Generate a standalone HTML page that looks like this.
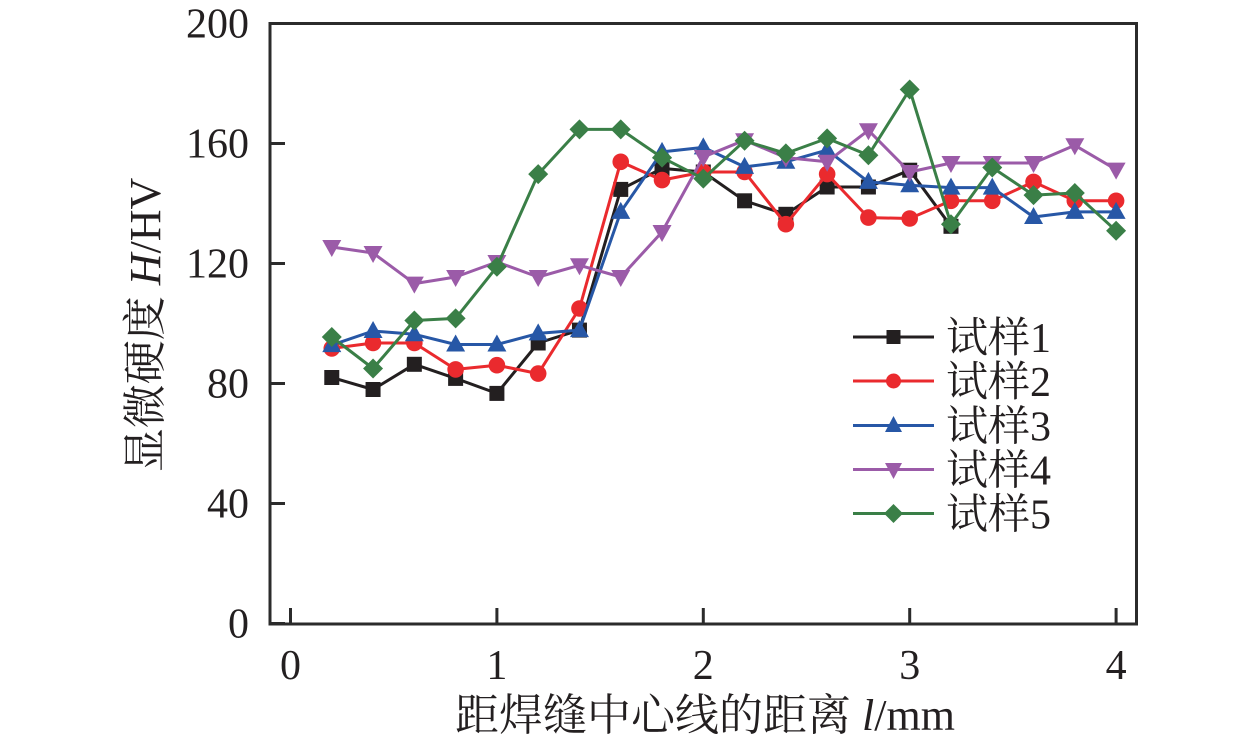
<!DOCTYPE html>
<html><head><meta charset="utf-8"><style>
html,body{margin:0;padding:0;background:#fff;}
svg{display:block;}
text{fill:#231f20;}
</style></head><body>
<svg width="1260" height="746" viewBox="0 0 1260 746" xmlns="http://www.w3.org/2000/svg">
<defs>
<marker id="m1" markerUnits="userSpaceOnUse" markerWidth="20" markerHeight="20" refX="10" refY="10" viewBox="0 0 20 20" overflow="visible"><rect x="2.5" y="2.5" width="15" height="15" fill="#231f20"/></marker>
<marker id="m2" markerUnits="userSpaceOnUse" markerWidth="20" markerHeight="20" refX="10" refY="10" viewBox="0 0 20 20" overflow="visible"><circle cx="10" cy="10" r="8.3" fill="#ea2a2e"/></marker>
<marker id="m3" markerUnits="userSpaceOnUse" markerWidth="20" markerHeight="20" refX="10" refY="10" viewBox="0 0 20 20" overflow="visible"><polygon points="10,0 19.5,17 0.5,17" fill="#2757a6"/></marker>
<marker id="m4" markerUnits="userSpaceOnUse" markerWidth="20" markerHeight="20" refX="10" refY="10" viewBox="0 0 20 20" overflow="visible"><polygon points="10,20 19.5,3 0.5,3" fill="#9b5ba8"/></marker>
<marker id="m5" markerUnits="userSpaceOnUse" markerWidth="20" markerHeight="20" refX="10" refY="10" viewBox="0 0 20 20" overflow="visible"><polygon points="10,0 20,10 10,20 0,10" fill="#3a7f47"/></marker>
</defs>

<!-- frame -->
<rect x="270" y="23.5" width="866.5" height="600.5" fill="none" stroke="#2b2b2b" stroke-width="3"/>
<!-- y ticks -->
<g stroke="#2b2b2b" stroke-width="3">
<line x1="270" y1="623.5" x2="285" y2="623.5"/>
<line x1="270" y1="503.5" x2="285" y2="503.5"/>
<line x1="270" y1="383.5" x2="285" y2="383.5"/>
<line x1="270" y1="263.5" x2="285" y2="263.5"/>
<line x1="270" y1="143.5" x2="285" y2="143.5"/>
<line x1="270" y1="23.5" x2="285" y2="23.5"/>
<!-- x ticks -->
<line x1="290.5" y1="624" x2="290.5" y2="608"/>
<line x1="496.9" y1="624" x2="496.9" y2="608"/>
<line x1="703.3" y1="624" x2="703.3" y2="608"/>
<line x1="909.7" y1="624" x2="909.7" y2="608"/>
<line x1="1116.1" y1="624" x2="1116.1" y2="608"/>
</g>

<!-- y tick labels -->
<g font-family="'Liberation Serif', serif" font-size="42" text-anchor="end">
<text x="249" y="637.5">0</text>
<text x="249" y="517.5">40</text>
<text x="249" y="397.5">80</text>
<text x="249" y="277.5">120</text>
<text x="249" y="157.5">160</text>
<text x="249" y="37.5">200</text>
</g>
<!-- x tick labels -->
<g font-family="'Liberation Serif', serif" font-size="42" text-anchor="middle">
<text x="290.5" y="679">0</text>
<text x="496.9" y="679">1</text>
<text x="703.3" y="679">2</text>
<text x="909.7" y="679">3</text>
<text x="1116.1" y="679">4</text>
</g>

<!-- axis titles -->
<text x="705" y="730" font-family="'Liberation Serif','Noto Serif CJK SC',serif" font-size="44" text-anchor="middle">距焊缝中心线的距离 <tspan font-style="italic">l</tspan>/mm</text>
<text transform="translate(160,325) rotate(-90)" x="0" y="0" font-family="'Liberation Serif','Noto Serif CJK SC',serif" font-size="44" text-anchor="middle">显微硬度 <tspan font-style="italic">H</tspan>/HV</text>

<!-- series -->
<g fill="none" stroke-width="3" stroke-linejoin="round">
<polyline stroke="#231f20" marker-start="url(#m1)" marker-mid="url(#m1)" marker-end="url(#m1)" points="331.78,377.5 373.06,389.5 414.34,364.3 455.62,378.4 496.9,393.4 538.18,343 579.46,330.1 620.74,189.4 662.02,168.4 703.3,172 744.58,200.8 785.86,214.3 827.14,187 868.42,187 909.7,170.2 950.98,226.3"/>
<polyline stroke="#ea2a2e" marker-start="url(#m2)" marker-mid="url(#m2)" marker-end="url(#m2)" points="331.78,348.4 373.06,343 414.34,343 455.62,369.4 496.9,365.2 538.18,373.6 579.46,308.5 620.74,161.8 662.02,180.1 703.3,172 744.58,172 785.86,224.2 827.14,174.1 868.42,217.6 909.7,218.5 950.98,200.8 992.26,200.8 1033.54,181.9 1074.82,200.8 1116.1,200.8"/>
<polyline stroke="#2757a6" marker-start="url(#m3)" marker-mid="url(#m3)" marker-end="url(#m3)" points="331.78,345.1 373.06,331 414.34,334.3 455.62,344.5 496.9,344.5 538.18,333.4 579.46,330.1 620.74,211.9 662.02,151.9 703.3,147.4 744.58,166.9 785.86,161.8 827.14,150.1 868.42,181.9 909.7,185.2 950.98,187.6 992.26,187.6 1033.54,217 1074.82,211.9 1116.1,211.9"/>
<polyline stroke="#9b5ba8" marker-start="url(#m4)" marker-mid="url(#m4)" marker-end="url(#m4)" points="331.78,247 373.06,253 414.34,283.6 455.62,277 496.9,262 538.18,277 579.46,265.3 620.74,277 662.02,232 703.3,157 744.58,140.2 785.86,157.6 827.14,161.8 868.42,130.3 909.7,172 950.98,163 992.26,163 1033.54,163 1074.82,145.3 1116.1,169.6"/>
<polyline stroke="#3a7f47" marker-start="url(#m5)" marker-mid="url(#m5)" marker-end="url(#m5)" points="331.78,337 373.06,368.5 414.34,320.5 455.62,318.4 496.9,266.8 538.18,174.1 579.46,129.4 620.74,129.4 662.02,157.6 703.3,178.6 744.58,140.8 785.86,153.4 827.14,138.4 868.42,155.2 909.7,89.5 950.98,224.2 992.26,167.5 1033.54,195.1 1074.82,193 1116.1,230.8"/>
</g>

<!-- legend -->
<g stroke-width="3">
<line x1="853" y1="337" x2="934" y2="337" stroke="#231f20"/>
<rect x="886.5" y="330" width="14" height="14" fill="#231f20"/>
<line x1="853" y1="381" x2="934" y2="381" stroke="#ea2a2e"/>
<circle cx="893.5" cy="381" r="7.5" fill="#ea2a2e"/>
<line x1="853" y1="425.5" x2="934" y2="425.5" stroke="#2757a6"/>
<polygon points="893.5,416 902,432 885,432" fill="#2757a6"/>
<line x1="853" y1="469.5" x2="934" y2="469.5" stroke="#9b5ba8"/>
<polygon points="893.5,479 902,463 885,463" fill="#9b5ba8"/>
<line x1="853" y1="513.5" x2="934" y2="513.5" stroke="#3a7f47"/>
<polygon points="893.5,504 903,513.5 893.5,523 884,513.5" fill="#3a7f47"/>
</g>
<g font-family="'Liberation Serif','Noto Serif CJK SC',serif" font-size="42">
<text x="946" y="352">试样1</text>
<text x="946" y="396">试样2</text>
<text x="946" y="440.5">试样3</text>
<text x="946" y="484.5">试样4</text>
<text x="946" y="528.5">试样5</text>
</g>
</svg>
</body></html>
